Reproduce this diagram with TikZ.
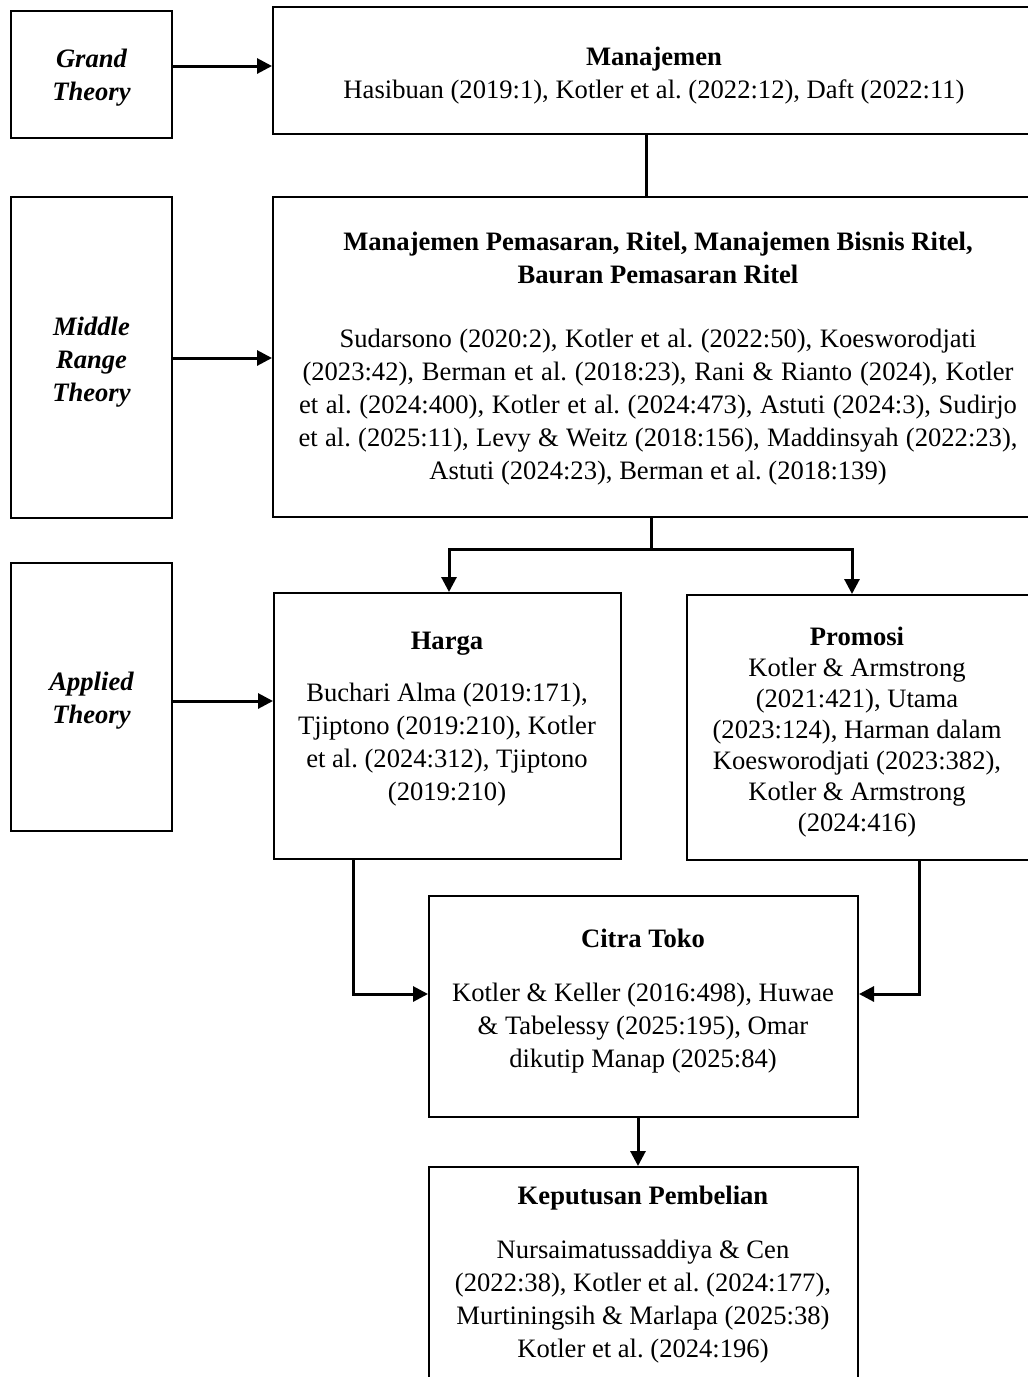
\documentclass[tikz,border=0pt]{standalone}
\usepackage{fontspec}
\setmainfont{Liberation Serif}
\usetikzlibrary{arrows.meta,calc}
\begin{document}
\frenchspacing
\begin{tikzpicture}[x=1pt,y=-1pt,
  box/.style={draw, line width=2pt, inner sep=0pt, anchor=center},
  txt/.style={inner sep=0pt, align=center, font=\fontsize{26.6}{33}\selectfont},
  side/.style={txt, font=\fontsize{26.6}{33}\selectfont\bfseries\itshape},
  conn/.style={line width=3pt},
  arr/.style={line width=3pt, -{Triangle[length=15pt,width=15pt]}}]
\useasboundingbox (0,0) rectangle (1028,1377);
\fill[white] (0,0) rectangle (1028,1377);
\clip (0,0) rectangle (1028,1377);
% boxes
\node[box, minimum width=161, minimum height=127] (gt) at (91.5,74.5) {};
\node[box, minimum width=767, minimum height=127] (man) at (656.5,70.5) {};
\node[box, minimum width=161, minimum height=321] (mr) at (91.5,357.5) {};
\node[box, minimum width=767, minimum height=320] (mid) at (656.5,357) {};
\node[box, minimum width=161, minimum height=268] (at) at (91.5,697) {};
\node[box, minimum width=347, minimum height=266] (harga) at (447.5,726) {};
\node[box, minimum width=353, minimum height=265] (promo) at (863.5,727.5) {};
\node[box, minimum width=429, minimum height=221] (citra) at (643.5,1006.5) {};
\node[box, minimum width=429, minimum height=233] (kep) at (643.5,1283.5) {};
% texts
\node[side] (gtT) at (91.5,77.5) {Grand\\Theory};
\node[side] (mrT) at (91.5,362) {Middle\\Range\\Theory};
\node[side] (atT) at (91.5,700.5) {Applied\\Theory};
\node[txt] (manT) at (654,75.5) {\textbf{Manajemen}\\Hasibuan (2019:1), Kotler et al. (2022:12), Daft (2022:11)};
\node[txt] (midT) at (658,359) {\textbf{Manajemen Pemasaran, Ritel, Manajemen Bisnis Ritel,}\\\textbf{Bauran Pemasaran Ritel}\\[31pt]
\makebox[637pt][s]{Sudarsono (2020:2), Kotler et al. (2022:50), Koesworodjati}\\
\makebox[711pt][s]{(2023:42), Berman et al. (2018:23), Rani \& Rianto (2024), Kotler}\\
\makebox[718pt][s]{et al. (2024:400), Kotler et al. (2024:473), Astuti (2024:3), Sudirjo}\\
\makebox[719pt][s]{et al. (2025:11), Levy \& Weitz (2018:156), Maddinsyah (2022:23),}\\
Astuti (2024:23), Berman et al. (2018:139)};
\node[txt] (hargaT) at (447,719.5) {\textbf{Harga}\\[19pt]
Buchari Alma (2019:171),\\Tjiptono (2019:210), Kotler\\et al. (2024:312), Tjiptono\\(2019:210)};
\node[txt, font=\fontsize{26.6}{31}\selectfont] (promoT) at (857,732.5) {\textbf{Promosi}\\
Kotler \& Armstrong\\(2021:421), Utama\\(2023:124), Harman dalam\\Koesworodjati (2023:382),\\Kotler \& Armstrong\\(2024:416)};
\node[txt] (citraT) at (643,1001) {\textbf{Citra Toko}\\[21pt]
Kotler \& Keller (2016:498), Huwae\\\& Tabelessy (2025:195), Omar\\dikutip Manap (2025:84)};
\node[txt] (kepT) at (643,1274.5) {\textbf{Keputusan Pembelian}\\[21pt]
Nursaimatussaddiya \& Cen\\(2022:38), Kotler et al. (2024:177),\\Murtiningsih \& Marlapa (2025:38)\\Kotler et al. (2024:196)};
% junction coordinates
\coordinate (j1) at (646,0);
\coordinate (j2) at (651,549);
\coordinate (hc) at (353,994);
\coordinate (pc) at (919,994);
\coordinate (ck) at (638,0);
% connectors
\draw[arr] (gt.east |- 0,66) -- (man.west |- 0,66);
\draw[arr] (mr.east |- 0,358) -- (mid.west |- 0,358);
\draw[arr] (at.east |- 0,701) -- (harga.west |- 0,701);
\draw[conn] (man.south -| j1) -- (mid.north -| j1);
\draw[conn] (mid.south -| j2) -- (j2);
\draw[arr] ([xshift=1.5pt]j2) -| ([xshift=1.5pt]harga.north);
\draw[arr] ([xshift=-1.5pt]j2) -| ([xshift=-11.5pt]promo.north);
\draw[arr] (harga.south -| hc) -- (hc) -- (citra.west |- hc);
\draw[arr] (promo.south -| pc) -- (pc) -- (citra.east |- pc);
\draw[arr] (citra.south -| ck) -- (kep.north -| ck);
\end{tikzpicture}
\end{document}
